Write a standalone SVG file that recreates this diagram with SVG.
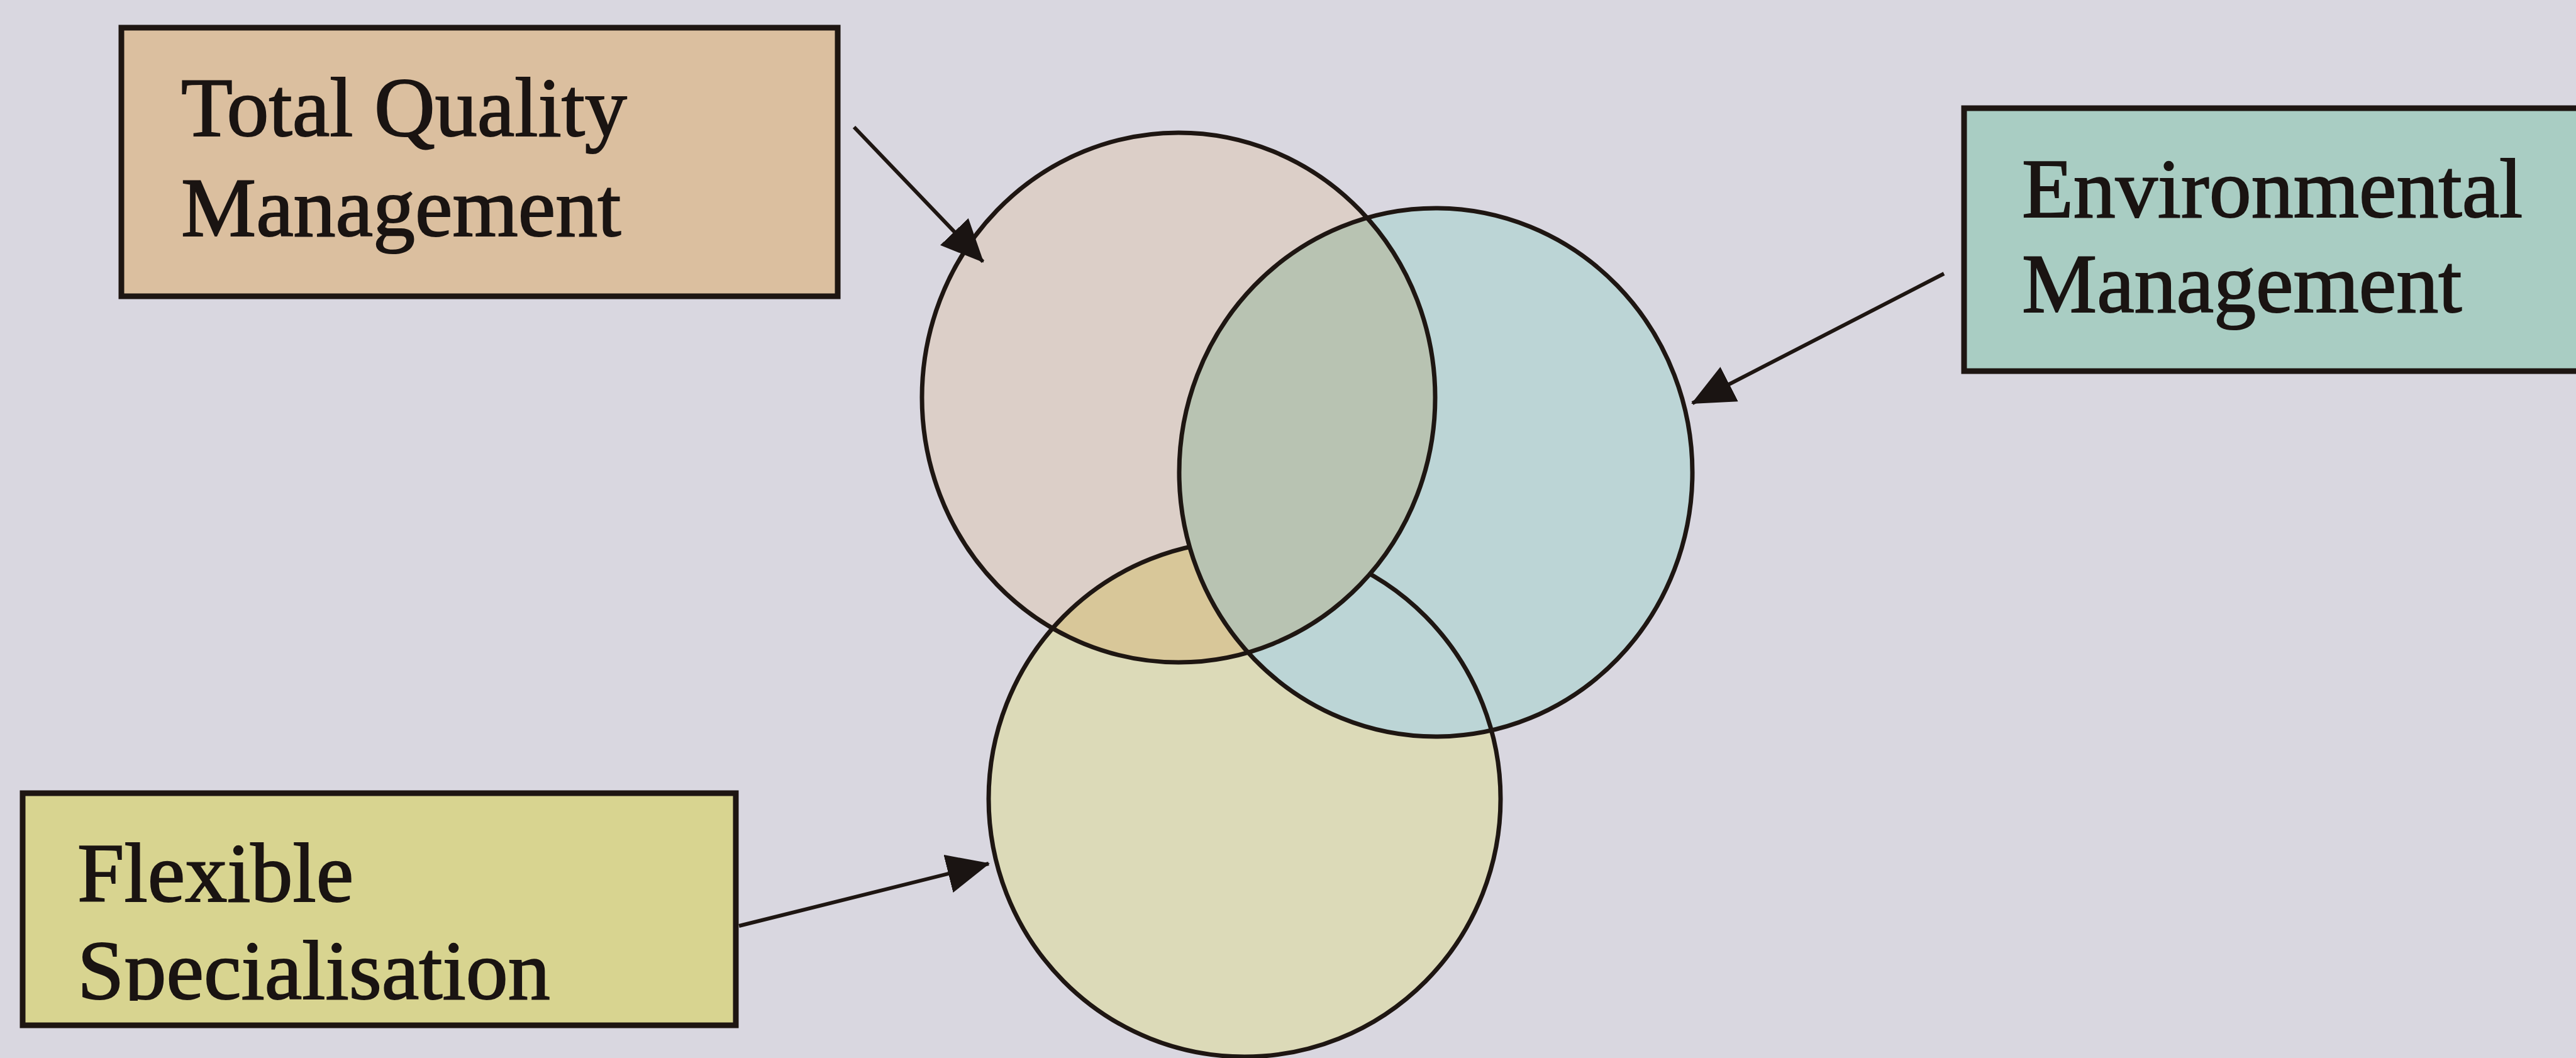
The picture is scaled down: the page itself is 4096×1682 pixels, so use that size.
<svg xmlns="http://www.w3.org/2000/svg" width="4096" height="1682" viewBox="0 0 4096 1682">
  <style>
    .box { stroke: #1e1612; stroke-width: 9; }
    .ring { fill: none; stroke: #1e1612; stroke-width: 7; }
    .label { font-family: "Liberation Serif", "Times New Roman", serif; font-size: 134px; fill: #1a1412; stroke: #1a1412; stroke-width: 2; }
    .link { stroke: #1e1612; stroke-width: 6; fill: none; marker-end: url(#head); }
  </style>
  <defs>
    <marker id="head" viewBox="0 0 68 62" refX="66" refY="31" markerWidth="68" markerHeight="62" markerUnits="userSpaceOnUse" orient="auto">
      <path d="M0,0 L68,31 L0,62 z" fill="#1a1412"/>
    </marker>
    <ellipse id="tqmShape" cx="1874" cy="632" rx="408" ry="421"/>
    <ellipse id="envShape" cx="2283" cy="751" rx="408" ry="420"/>
    <ellipse id="fsShape" cx="1979" cy="1270" rx="407" ry="410"/>
    <clipPath id="clipTqm"><use href="#tqmShape"/></clipPath>
    <clipPath id="clipFsText"><rect x="0" y="1280" width="1200" height="311"/></clipPath>
  </defs>

  <rect width="4096" height="1682" fill="#d9d7e0"/>

  <!-- circle fills -->
  <g id="circle-fills">
    <use href="#fsShape" fill="#dcdab8"/>
    <use href="#tqmShape" fill="#dccfc8"/>
    <use href="#envShape" fill="#bcd5d6"/>
    <use href="#fsShape" fill="#d8c799" clip-path="url(#clipTqm)"/>
  </g>

  <g id="circle-fs">
    <use href="#fsShape" class="ring"/>
  </g>

  <!-- lens shared by quality and environmental management -->
  <g id="overlap-tqm-env">
    <use href="#envShape" fill="#b8c3b2" clip-path="url(#clipTqm)"/>
  </g>

  <g id="circle-tqm">
    <use href="#tqmShape" class="ring"/>
  </g>
  <g id="circle-env">
    <use href="#envShape" class="ring"/>
  </g>

  <g id="box-tqm">
    <rect class="box" x="193" y="44" width="1139" height="427" fill="#dbbf9f"/>
    <text class="label" x="288" y="216">Total Quality</text>
    <text class="label" x="288" y="375">Management</text>
  </g>

  <g id="box-env">
    <rect class="box" x="3123" y="172" width="1000" height="418" fill="#a9cdc3"/>
    <text class="label" x="3215" y="345">Environmental</text>
    <text class="label" x="3215" y="496">Management</text>
  </g>

  <g id="box-fs">
    <rect class="box" x="36" y="1261" width="1134" height="369" fill="#d8d490"/>
    <g clip-path="url(#clipFsText)">
      <text class="label" x="123" y="1433">Flexible</text>
      <text class="label" x="123" y="1588">Specialisation</text>
    </g>
  </g>

  <g id="connectors">
    <line class="link" x1="1358" y1="202" x2="1563" y2="416"/>
    <line class="link" x1="3091" y1="435" x2="2691" y2="641"/>
    <line class="link" x1="1175" y1="1472" x2="1572" y2="1373"/>
  </g>
</svg>
